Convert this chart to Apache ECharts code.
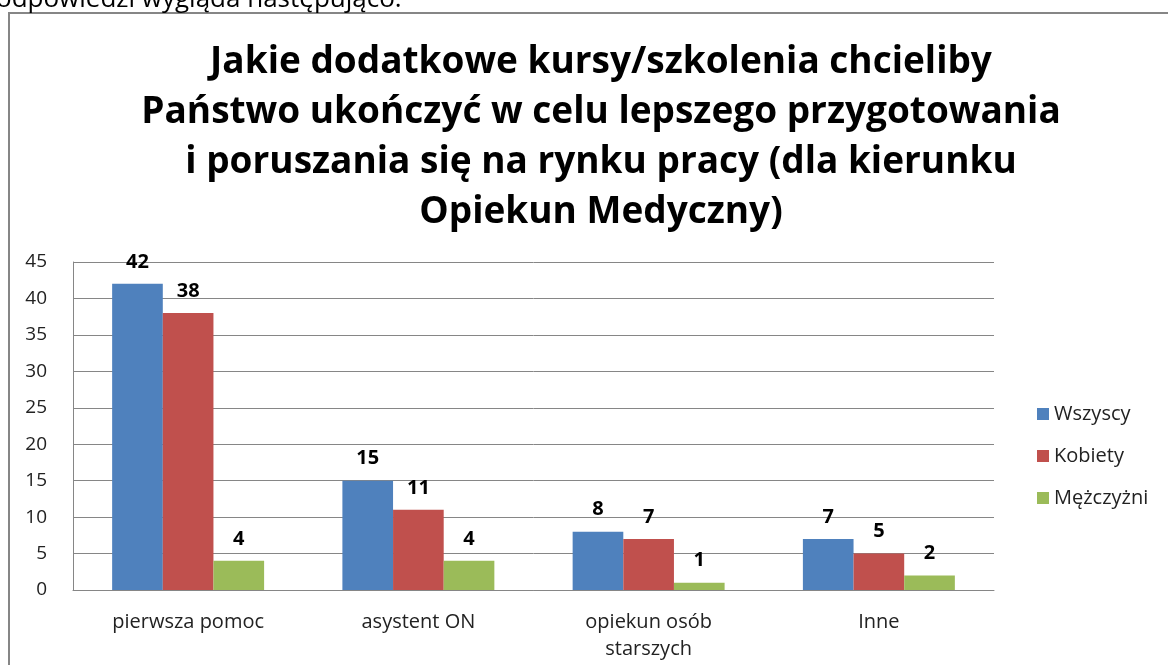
<!DOCTYPE html>
<html>
<head>
<meta charset="utf-8">
<script src="https://cdn.jsdelivr.net/npm/echarts@6/dist/echarts.min.js"></script>
<style>
  html, body { margin: 0; padding: 0; background: #fff; }
  #chart { width: 1168px; height: 665px; }
</style>
</head>
<body>
<div id="chart"></div>
<script>
// dane
const categories = ['pierwsza pomoc', 'asystent ON', 'opiekun osób\nstarszych', 'Inne']
const wszyscy = [42, 15, 8, 7]
const kobiety = [38, 11, 7, 5]
const mezczyzni = [4, 4, 1, 2]
const seriesNames = ['Wszyscy', 'Kobiety', 'Mężczyżni']
const colors = ['#4F81BD', '#C0504D', '#9BBB59']

const myChart = echarts.init(document.getElementById('chart'))

const labelStyle = {
  show: true,
  position: 'top',
  distance: 12,
  color: '#000',
  fontWeight: 'bold',
  fontSize: 20,
  fontFamily: '"Open Sans", sans-serif'
}

const option = {
  backgroundColor: '#fff',
  color: colors,
  animation: false,
  textStyle: { fontFamily: '"Open Sans", sans-serif' },
  graphic: [
    {
      type: 'text',
      left: -4,
      top: -13,
      style: { text: 'odpowiedzi wygląda następująco:', fontSize: 26, fill: '#000', fontFamily: '"Open Sans", sans-serif' }
    },
    {
      type: 'rect',
      shape: { x: 9, y: 13, width: 1200, height: 700 },
      style: { fill: 'none', stroke: '#868686', lineWidth: 2 },
      z: -1
    }
  ],
  title: {
    text: 'Jakie dodatkowe kursy/szkolenia chcieliby\nPaństwo ukończyć w celu lepszego przygotowania\ni poruszania się na rynku pracy (dla kierunku\nOpiekun Medyczny)',
    left: 596,
    top: 32,
    textAlign: 'center',
    textStyle: {
      fontSize: 37,
      fontWeight: 'bold',
      color: '#000',
      lineHeight: 50,
      fontFamily: '"Open Sans", sans-serif'
    }
  },
  legend: {
    orient: 'vertical',
    left: 1032,
    top: 399,
    itemWidth: 12,
    itemHeight: 12,
    itemGap: 22,
    icon: 'rect',
    textStyle: { fontSize: 20, color: '#222' },
    data: seriesNames
  },
  grid: {
    left: 73,
    right: 174,
    top: 262,
    bottom: 75,
    containLabel: false
  },
  xAxis: {
    type: 'category',
    data: categories,
    axisLine: { lineStyle: { color: '#868686' } },
    axisTick: { show: false },
    axisLabel: { color: '#222', fontSize: 20, margin: 19, lineHeight: 27 }
  },
  yAxis: {
    type: 'value',
    min: 0,
    max: 45,
    interval: 5,
    axisLine: { show: true, lineStyle: { color: '#868686' } },
    axisTick: { show: false },
    splitLine: { lineStyle: { color: '#868686' } },
    axisLabel: { color: '#222', fontSize: 19, margin: 26 }
  },
  series: [
    { name: seriesNames[0], type: 'bar', data: wszyscy, barGap: '0%', barCategoryGap: '34%', label: labelStyle },
    { name: seriesNames[1], type: 'bar', data: kobiety, label: labelStyle },
    { name: seriesNames[2], type: 'bar', data: mezczyzni, label: labelStyle }
  ]
}

myChart.setOption(option)
window.addEventListener('resize', () => {
  myChart.resize()
})
</script>
</body>
</html>
